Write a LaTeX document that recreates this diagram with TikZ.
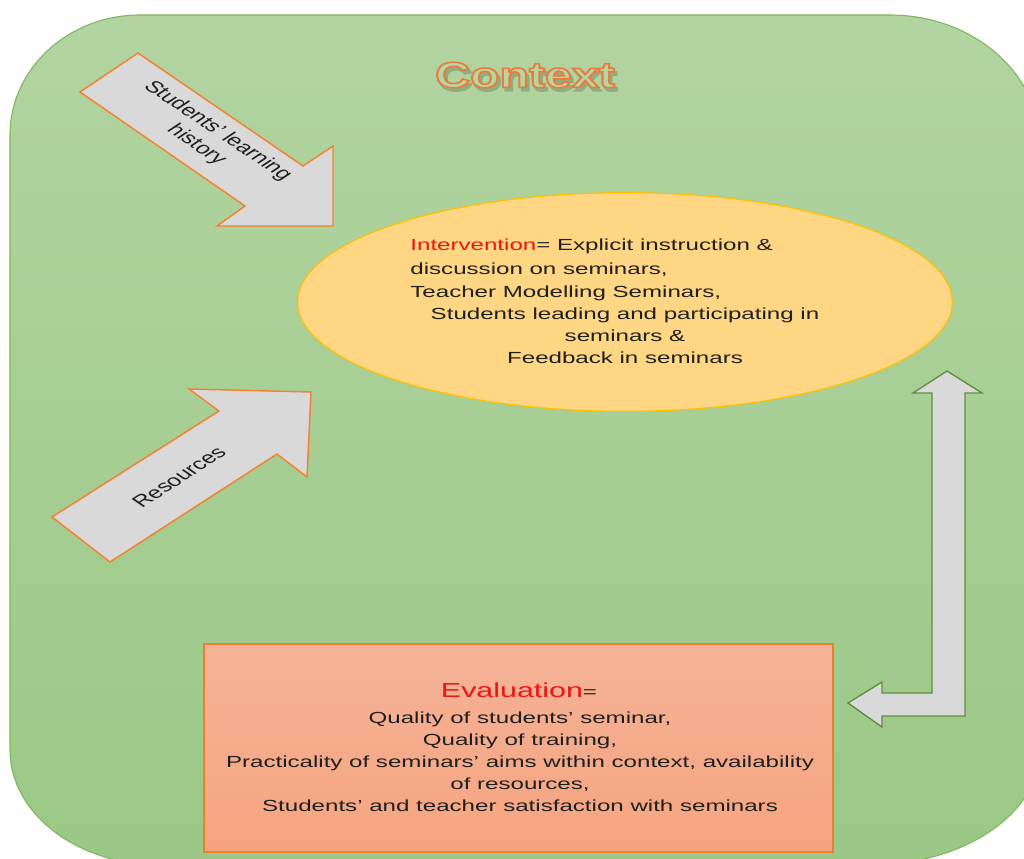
\documentclass[tikz,border=0pt]{standalone}
\usepackage{fontspec}
\setmainfont{Liberation Sans}
\usetikzlibrary{shapes.geometric}
\definecolor{bgtop}{HTML}{B2D4A1}
\definecolor{bgbot}{HTML}{9BC886}
\definecolor{bgborder}{HTML}{7CB85A}
\definecolor{ellfill}{HTML}{FFD683}
\definecolor{ellborder}{HTML}{FFC000}
\definecolor{evaltop}{HTML}{F4B397}
\definecolor{evalbot}{HTML}{F6A47F}
\definecolor{evalborder}{HTML}{ED7D31}
\definecolor{arrfill}{HTML}{D9D9D9}
\definecolor{arrorange}{HTML}{F4812F}
\definecolor{arrgreen}{HTML}{5E8E3E}
\definecolor{redtext}{HTML}{F01414}
\definecolor{textblack}{HTML}{1F1F1F}
\definecolor{ctxfill}{HTML}{B6D7A5}
\definecolor{ctxshadow}{HTML}{8FAE80}
\newcommand\bodyfnta{\fontsize{12.05}{17.6}\selectfont}
\newcommand\bodyfntb{\fontsize{12.05}{16.5}\selectfont}
\newcommand\arrfnt{\fontsize{12.4}{15}\selectfont}
% outlined text: fill in current colour, stroke in the given rgb
\newcommand\outlinetext[2]{\special{pdf:literal direct q #1 RG 1.2 w 2 Tr}#2\special{pdf:literal direct Q}}
\begin{document}
\begin{tikzpicture}[x=0.75pt,y=-0.75pt,
  txt/.style={inner sep=0pt, text=textblack, transform shape},
  orangearrow/.style={draw=arrorange, line width=1.1pt, fill=arrfill, line join=miter},
  greenarrow/.style={draw=arrgreen, line width=1pt, fill=arrfill, line join=miter}]
\useasboundingbox (0,0) rectangle (1024,859);
\clip (0,0) rectangle (1024,859);
\fill[white] (0,0) rectangle (1024,859);
% context background
\path[draw=bgborder, line width=0.8pt, top color=bgtop, bottom color=bgbot]
 (10,135) .. controls (10,68.7) and (68.2,15) .. (140,15)
 -- (890,15) .. controls (972.8,15) and (1040,73.2) .. (1040,145)
 -- (1040,750) .. controls (1040,813.5) and (963.9,865) .. (870,865)
 -- (160,865) .. controls (77.2,865) and (10,813.5) .. (10,750) -- cycle;
% Context title with shadow
\begin{scope}[shift={(527.5,78.5)}, xscale=1.34]
\node[inner sep=0pt, transform shape, font=\fontsize{27}{30}\selectfont\bfseries, text=ctxshadow] (ctxsh) at (0,0) {\outlinetext{0.56 0.68 0.50}{Context}};
\end{scope}
\begin{scope}[shift={(525,75)}, xscale=1.34]
\node[inner sep=0pt, transform shape, font=\fontsize{27}{30}\selectfont\bfseries, text=ctxfill] (ctx) at (0,0) {\outlinetext{0.918 0.482 0.235}{Context}};
\end{scope}
% block arrows
\draw[orangearrow] (80,92) -- (138,53) -- (303,166) -- (333,146) -- (333,226) -- (217,226) -- (245,206) -- cycle;
\draw[orangearrow] (52,517) -- (219,411) -- (189,389) -- (311,392) -- (307,477) -- (277,454) -- (110,562) -- cycle;
\draw[greenarrow] (947,371) -- (982,393) -- (965,393) -- (965,716) -- (882,716) -- (882,727) -- (848,703) -- (882,682) -- (882,693) -- (932,693) -- (932,393) -- (913,393) -- cycle;
\begin{scope}[shift={(207,138)}, xscale=1.5, rotate=-45]
\node[txt, align=center, font=\arrfnt] (hist) at (0,0) {Students’ learning\\history};
\end{scope}
\begin{scope}[shift={(179,477)}, xscale=1.5, rotate=44]
\node[txt, font=\arrfnt] (res) at (0,0) {Resources};
\end{scope}
% intervention ellipse
\node[ellipse, draw=ellborder, line width=0.9pt, fill=ellfill, minimum width=491pt, minimum height=164pt, inner sep=0pt] (interv) at (625,302) {};
\begin{scope}[shift={(410,270)}, xscale=1.5]
\node[txt, anchor=west, align=left, font=\bodyfnta] (int1) at (0,0) {\textcolor{redtext}{Intervention}= Explicit instruction \&\\discussion on seminars,\\Teacher Modelling Seminars,};
\end{scope}
\begin{scope}[shift={(625,336)}, xscale=1.5]
\node[txt, align=center, font=\bodyfntb] (int2) at (0,0) {Students leading and participating in\\seminars \&\\Feedback in seminars};
\end{scope}
% evaluation box
\node[rectangle, draw=evalborder, line width=1pt, top color=evaltop, bottom color=evalbot, minimum width=471.75pt, minimum height=156pt, inner sep=0pt] (evalbox) at (518.5,748) {};
\begin{scope}[shift={(519,690)}, xscale=1.5]
\node[txt, font=\bodyfntb] (evtitle) at (0,0) {\textcolor{redtext}{\fontsize{15.2}{18}\selectfont Evaluation}=};
\end{scope}
\begin{scope}[shift={(520,762)}, xscale=1.5]
\node[txt, align=center, font=\bodyfntb] (evbody) at (0,0) {Quality of students’ seminar,\\Quality of training,\\Practicality of seminars’ aims within context, availability\\of resources,\\ Students’ and teacher satisfaction with seminars};
\end{scope}
\end{tikzpicture}
\end{document}
